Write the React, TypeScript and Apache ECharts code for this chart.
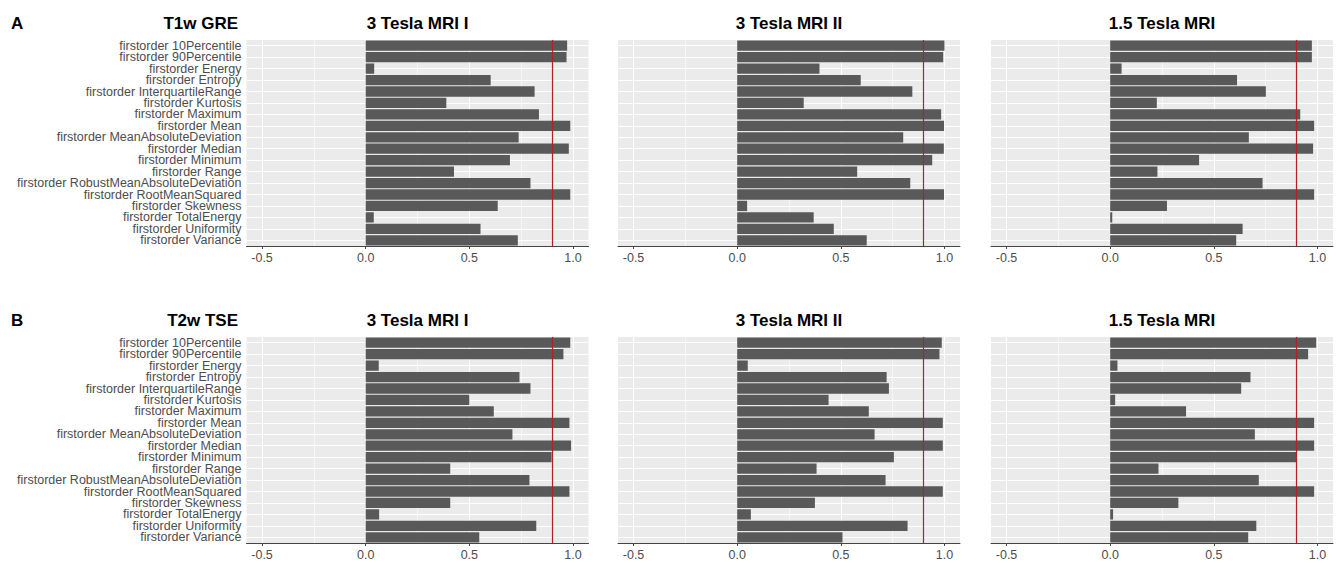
import React, { useEffect, useRef } from "react";
import * as echarts from "echarts";

const features = [
  "firstorder 10Percentile",
  "firstorder 90Percentile",
  "firstorder Energy",
  "firstorder Entropy",
  "firstorder InterquartileRange",
  "firstorder Kurtosis",
  "firstorder Maximum",
  "firstorder Mean",
  "firstorder MeanAbsoluteDeviation",
  "firstorder Median",
  "firstorder Minimum",
  "firstorder Range",
  "firstorder RobustMeanAbsoluteDeviation",
  "firstorder RootMeanSquared",
  "firstorder Skewness",
  "firstorder TotalEnergy",
  "firstorder Uniformity",
  "firstorder Variance",
];

const t1w3TeslaI = [0.972, 0.969, 0.041, 0.603, 0.815, 0.389, 0.836, 0.987, 0.738, 0.98, 0.696, 0.426, 0.795, 0.987, 0.637, 0.039, 0.554, 0.734];
const t1w3TeslaII = [1.0, 0.994, 0.397, 0.596, 0.845, 0.321, 0.984, 0.998, 0.801, 0.997, 0.941, 0.579, 0.835, 0.998, 0.048, 0.369, 0.466, 0.625];
const t1w15Tesla = [0.973, 0.973, 0.055, 0.612, 0.751, 0.225, 0.917, 0.984, 0.669, 0.979, 0.429, 0.228, 0.735, 0.984, 0.274, 0.01, 0.639, 0.608];
const t2w3TeslaI = [0.987, 0.954, 0.063, 0.742, 0.795, 0.5, 0.618, 0.983, 0.708, 0.991, 0.897, 0.408, 0.79, 0.983, 0.408, 0.065, 0.823, 0.548];
const t2w3TeslaII = [0.987, 0.976, 0.051, 0.721, 0.732, 0.441, 0.635, 0.992, 0.663, 0.992, 0.756, 0.383, 0.716, 0.992, 0.375, 0.066, 0.822, 0.508];
const t2w15Tesla = [0.994, 0.955, 0.035, 0.677, 0.632, 0.024, 0.366, 0.984, 0.698, 0.984, 0.9, 0.233, 0.717, 0.984, 0.329, 0.014, 0.705, 0.666];

const scannerTitles = ["3 Tesla MRI I", "3 Tesla MRI II", "1.5 Tesla MRI"];
const rowLetters = ["A", "B"];
const rowTitles = ["T1w GRE", "T2w TSE"];
const xTicks = [-0.5, 0, 0.5, 1.0];
const xMinorLines = [-0.25, 0.25, 0.75];
const threshold = 0.9;

const rows = [
  [t1w3TeslaI, t1w3TeslaII, t1w15Tesla],
  [t2w3TeslaI, t2w3TeslaII, t2w15Tesla],
];

export default function App() {
  const ref = useRef<HTMLDivElement>(null);
  useEffect(() => {
    document.body.style.margin = "0";
    const chart = echarts.init(ref.current!, undefined, { renderer: "svg" });
    const colLefts = [246.5, 618, 991];
    const panelW = 342;
    const rowTops = [40, 337];
    const panelH = 206;
    const grids: any[] = [];
    const xAxes: any[] = [];
    const yAxes: any[] = [];
    const series: any[] = [];
    const graphics: any[] = [];
    const labelFont = "Liberation Sans, Arial, sans-serif";

    rows.forEach((row, r) => {
      graphics.push({
        type: "text",
        x: 11,
        y: rowTops[r] - 17,
        style: { text: rowLetters[r], font: "bold 17px " + labelFont, fill: "#000", textVerticalAlign: "middle" },
      });
      graphics.push({
        type: "text",
        x: 238,
        y: rowTops[r] - 17,
        style: { text: rowTitles[r], font: "bold 17px " + labelFont, fill: "#000", textAlign: "right", textVerticalAlign: "middle" },
      });
      row.forEach((vals, c) => {
        const idx = grids.length;
        grids.push({
          left: colLefts[c],
          top: rowTops[r],
          width: panelW,
          height: panelH,
          show: true,
          backgroundColor: "#EBEBEB",
          borderWidth: 0,
        });
        graphics.push({
          type: "text",
          x: colLefts[c] + panelW / 2,
          y: rowTops[r] - 17,
          style: { text: scannerTitles[c], font: "bold 17px " + labelFont, fill: "#000", textAlign: "center", textVerticalAlign: "middle" },
        });
        xAxes.push({
          type: "value",
          gridIndex: idx,
          min: -0.575,
          max: 1.075,
          axisLine: { show: true, lineStyle: { color: "#444", width: 1 } },
          axisTick: { show: true, length: 3, customValues: xTicks, lineStyle: { color: "#444" } },
          axisLabel: {
            show: true,
            customValues: xTicks,
            color: "#4D4D4D",
            fontSize: 12.5,
            fontFamily: labelFont,
            margin: 5,
            formatter: (v: number) => v.toFixed(1),
          },
          splitLine: { show: false },
        });
        yAxes.push({
          type: "category",
          gridIndex: idx,
          data: features,
          inverse: true,
          axisLine: { show: false },
          axisTick: { show: c === 0, length: 3, alignWithLabel: true, lineStyle: { color: "#444" } },
          axisLabel: {
            show: c === 0,
            interval: 0,
            color: "#4D4D4D",
            fontSize: 12.5,
            fontFamily: labelFont,
            margin: 5,
          },
          splitLine: { show: false },
        });
        const gridLineData: any[] = [];
        xTicks.forEach((v) => gridLineData.push({ xAxis: v, lineStyle: { color: "#FFFFFF", width: 1.1, type: "solid" } }));
        xMinorLines.forEach((v) => gridLineData.push({ xAxis: v, lineStyle: { color: "#FFFFFF", width: 0.55, type: "solid" } }));
        features.forEach((f) => gridLineData.push({ yAxis: f, lineStyle: { color: "#FFFFFF", width: 1.1, type: "solid" } }));
        series.push({
          type: "scatter",
          xAxisIndex: idx,
          yAxisIndex: idx,
          data: [],
          z: 1,
          silent: true,
          markLine: {
            silent: true,
            z: 1,
            symbol: ["none", "none"],
            label: { show: false },
            emphasis: { disabled: true },
            data: gridLineData,
          },
        });
        series.push({
          type: "bar",
          xAxisIndex: idx,
          yAxisIndex: idx,
          data: vals,
          z: 2,
          barCategoryGap: "10%",
          itemStyle: { color: "#595959" },
          markLine: {
            silent: true,
            z: 5,
            symbol: ["none", "none"],
            label: { show: false },
            lineStyle: { color: "#B22222", width: 1.2, type: "solid" },
            data: [{ xAxis: threshold }],
          },
        });
      });
    });

    chart.setOption({
      animation: false,
      backgroundColor: "#FFFFFF",
      grid: grids,
      xAxis: xAxes,
      yAxis: yAxes,
      series,
      graphic: graphics,
    });
    return () => chart.dispose();
  }, []);
  return <div ref={ref} style={{ width: 1338, height: 563 }} />;
}
